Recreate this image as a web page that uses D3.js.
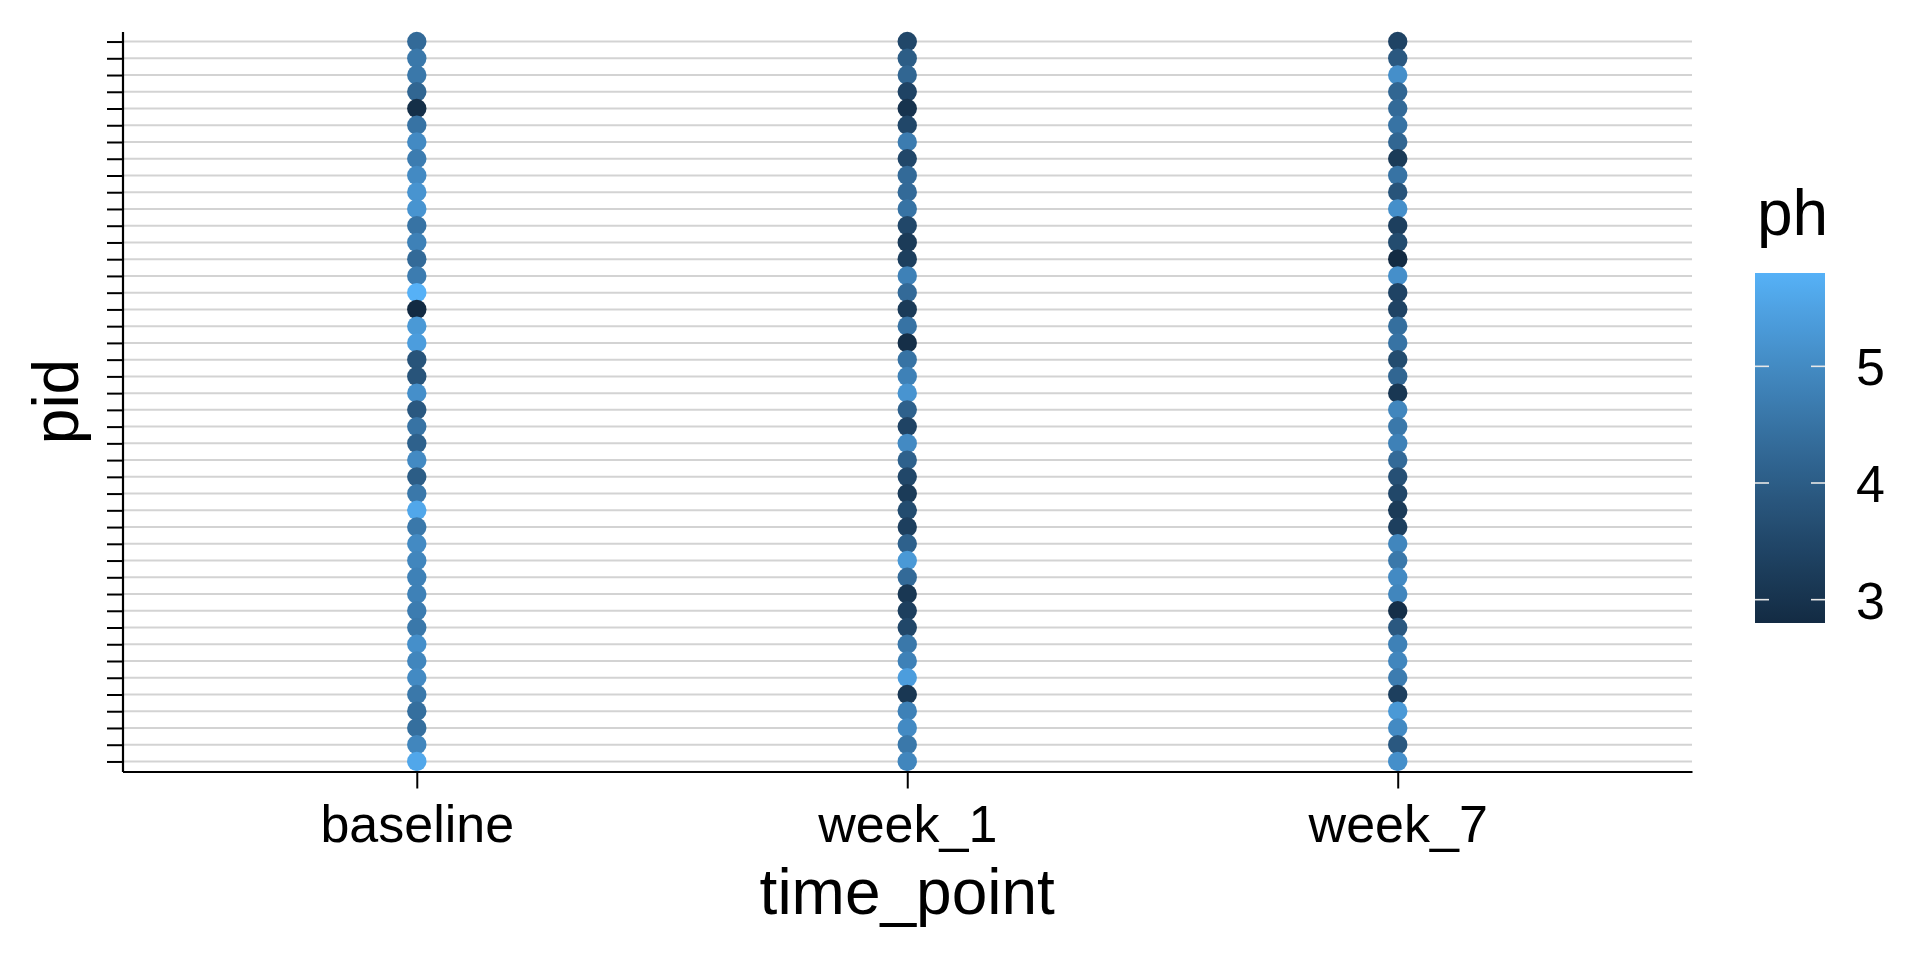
<!DOCTYPE html>
<html>
<head>
<meta charset="utf-8">
<script src="https://cdn.jsdelivr.net/npm/d3@7"></script>
<style>
	body { margin: 0; background: #fff; }
	text { font-family: "Liberation Sans", Arial, Helvetica, sans-serif; fill: #000; }
</style>
</head>
<body>
<svg id="chart" width="1920" height="960"></svg>
<script>
// categories
let timePoints = ["baseline", "week_1", "week_7"];
// participant ids, listed top row first (labels are hidden in the chart)
let pids = ["P44","P43","P42","P41","P40","P39","P38","P37","P36","P35","P34","P33","P32","P31","P30",
	"P29","P28","P27","P26","P25","P24","P23","P22","P21","P20","P19","P18","P17","P16","P15",
	"P14","P13","P12","P11","P10","P09","P08","P07","P06","P05","P04","P03","P02","P01"];

// ph values per time point, same order as pids
let phBaseline = [4.3,4.6,4.6,4.2,2.9,4.5,5.0,4.7,5.0,5.2, 5.2,4.5,4.8,4.3,4.7,5.8,2.8,5.3,5.4,3.8,
	3.8,5.1,3.9,4.5,4.1,5.0,4.0,4.6,5.6,4.6, 5.0,4.9,4.8,4.8,4.7,4.6,5.1,4.9,5.0,4.6, 4.4,4.4,4.9,5.6];
let phWeek1 = [3.5,4.0,4.2,3.4,3.0,3.5,4.7,3.5,4.3,4.3, 4.5,3.5,3.2,3.3,4.8,4.3,3.2,4.5,2.9,4.5,
	4.8,5.2,4.1,3.4,5.0,4.1,3.5,3.2,3.6,3.3, 4.1,5.3,4.3,3.1,3.3,3.5,4.6,4.8,5.4,3.1, 4.8,5.0,4.6,4.9];
let phWeek7 = [3.4,3.9,5.1,4.2,4.3,4.5,4.2,3.2,4.5,3.8, 5.1,3.3,3.6,2.8,5.1,3.4,3.4,4.4,4.5,3.6,
	4.2,3.1,4.9,4.6,4.8,4.3,3.7,3.5,3.2,3.3, 4.9,4.6,5.0,4.9,2.9,3.9,4.8,4.9,4.7,3.3, 5.3,5.0,3.9,5.1];
let legendTicks = [3, 4, 5];

let series = [phBaseline, phWeek1, phWeek7];
let points = [];
timePoints.forEach((tp, i) => {
	series[i].forEach((v, j) => points.push({time: tp, pid: pids[j], ph: v}));
});

let svg = d3.select("#chart");
let panel = {"left": 122.5, "right": 1692, "top": 31.5, "bottom": 771.5};

let x = d3.scalePoint()
	.domain(timePoints)
	.range([panel.left, panel.right])
	.padding(0.6);
let y = d3.scalePoint()
	.domain(pids)
	.range([panel.top, panel.bottom])
	.padding(0.6);

let extent = d3.extent(points, d => d.ph);
let colour = d3.scaleLinear()
	.domain(extent)
	.range(["#132B43", "#56B1F7"])
	.interpolate(d3.interpolateLab);

// horizontal grid lines
svg.append("g").selectAll("line")
	.data(pids)
	.enter().append("line")
		.attr("x1", panel.left)
		.attr("x2", panel.right)
		.attr("y1", d => y(d))
		.attr("y2", d => y(d))
		.attr("stroke", "#D3D3D3")
		.attr("stroke-width", 2);

// points
svg.append("g").selectAll("circle")
	.data(points)
	.enter().append("circle")
		.attr("cx", d => x(d.time))
		.attr("cy", d => y(d.pid))
		.attr("r", 9.7)
		.attr("fill", d => colour(d.ph));

// axes
let xAxis = svg.append("g")
	.attr("transform", `translate(0,${panel.bottom})`)
	.call(d3.axisBottom(x).tickSize(17).tickSizeOuter(0).tickPadding(10));
xAxis.select(".domain").attr("stroke", "#000").attr("stroke-width", 2.2);
xAxis.selectAll(".tick line").attr("stroke", "#000").attr("stroke-width", 2);
xAxis.selectAll(".tick text")
	.attr("font-size", 52)
	.attr("font-family", null)
	.attr("fill", "#000")
	.attr("dy", null)
	.attr("y", 70);

let yAxis = svg.append("g")
	.attr("transform", `translate(${panel.left},0)`)
	.call(d3.axisLeft(y).tickSize(15.5).tickSizeOuter(0).tickFormat(""));
yAxis.select(".domain").attr("stroke", "#000").attr("stroke-width", 2.2);
yAxis.selectAll(".tick line").attr("stroke", "#000").attr("stroke-width", 2);

// axis titles
svg.append("text")
	.attr("x", (panel.left + panel.right) / 2)
	.attr("y", 914)
	.attr("text-anchor", "middle")
	.attr("font-size", 64)
	.text("time_point");

svg.append("text")
	.attr("transform", `translate(78,${(panel.top + panel.bottom) / 2}) rotate(-90)`)
	.attr("text-anchor", "middle")
	.attr("font-size", 64)
	.text("pid");

// colour bar legend
let legend = {"x": 1755, "y": 273, "w": 70, "h": 350};
let defs = svg.append("defs").append("linearGradient")
	.attr("id", "phGrad")
	.attr("x1", 0).attr("x2", 0)
	.attr("y1", 1).attr("y2", 0);
d3.range(0, 1.0001, 0.05).forEach(t => {
	defs.append("stop")
		.attr("offset", (t * 100) + "%")
		.attr("stop-color", colour(extent[0] + t * (extent[1] - extent[0])));
});

let ly = d3.scaleLinear()
	.domain(extent)
	.range([legend.y + legend.h, legend.y]);

let legendGroup = svg.append("g").attr("class", "legend");
legendGroup.append("text")
	.attr("x", 1757)
	.attr("y", 235)
	.attr("font-size", 64)
	.text("ph");

legendGroup.append("rect")
	.attr("x", legend.x)
	.attr("y", legend.y)
	.attr("width", legend.w)
	.attr("height", legend.h)
	.attr("fill", "url(#phGrad)");

legendGroup.selectAll(".tickL")
	.data(legendTicks)
	.enter().append("line")
		.attr("class", "tickL")
		.attr("x1", legend.x)
		.attr("x2", legend.x + 14)
		.attr("y1", d => ly(d))
		.attr("y2", d => ly(d))
		.attr("stroke", "#e8e8e8")
		.attr("stroke-width", 1.6);
legendGroup.selectAll(".tickR")
	.data(legendTicks)
	.enter().append("line")
		.attr("class", "tickR")
		.attr("x1", legend.x + legend.w - 14)
		.attr("x2", legend.x + legend.w)
		.attr("y1", d => ly(d))
		.attr("y2", d => ly(d))
		.attr("stroke", "#e8e8e8")
		.attr("stroke-width", 1.6);

legendGroup.selectAll(".legLabel")
	.data(legendTicks)
	.enter().append("text")
		.attr("class", "legLabel")
		.attr("x", 1856)
		.attr("y", d => ly(d) + 19)
		.attr("font-size", 52)
		.text(d => d);
</script>
</body>
</html>
